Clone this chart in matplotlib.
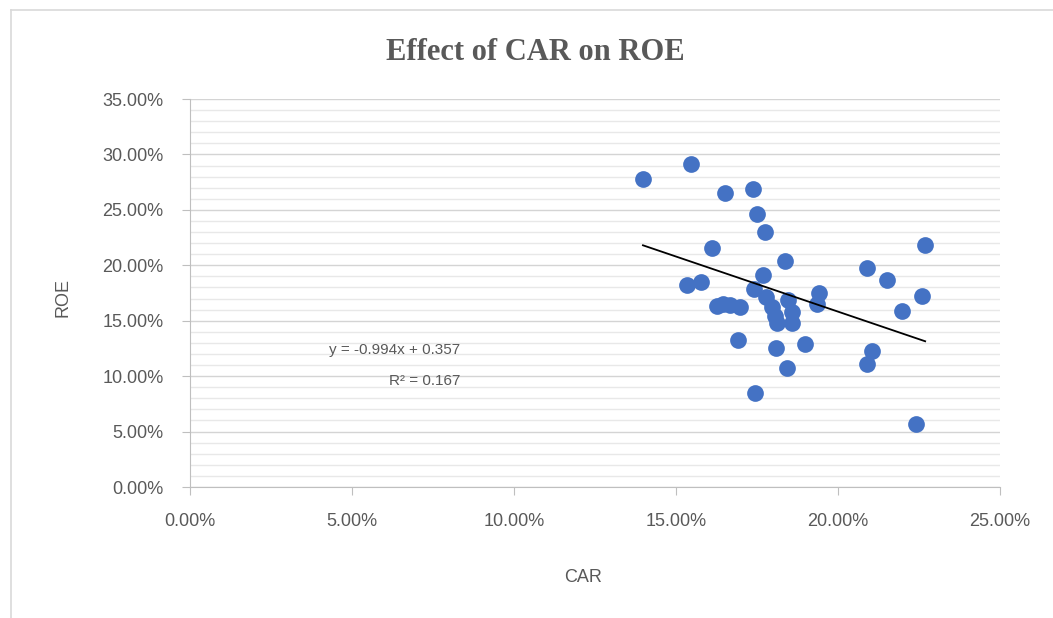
import numpy as np
import matplotlib
matplotlib.use("Agg")
import matplotlib.pyplot as plt
from matplotlib.ticker import PercentFormatter, MultipleLocator
from matplotlib.lines import Line2D

# CAR (x) and ROE (y) as fractions
car = [0.1398, 0.1546, 0.1650, 0.1738, 0.1750, 0.1775, 0.1610, 0.1836,
       0.1770, 0.1740, 0.1535, 0.1577, 0.1627, 0.1645, 0.1667, 0.1698,
       0.1778, 0.1796, 0.1806, 0.1812, 0.1846, 0.1858, 0.1858, 0.1935,
       0.1940, 0.1690, 0.1810, 0.1898, 0.1843, 0.1744, 0.2269, 0.2090,
       0.2150, 0.2260, 0.2197, 0.2105, 0.2090, 0.2240]
roe = [0.278, 0.291, 0.265, 0.269, 0.246, 0.230, 0.216, 0.204,
       0.191, 0.179, 0.182, 0.185, 0.163, 0.165, 0.164, 0.162,
       0.171, 0.162, 0.154, 0.148, 0.169, 0.158, 0.148, 0.165,
       0.175, 0.133, 0.125, 0.129, 0.107, 0.0845, 0.218, 0.198,
       0.187, 0.172, 0.159, 0.123, 0.111, 0.057]

# linear trendline as shown in the chart label
slope, intercept, r2 = -0.994, 0.357, 0.167

grey = '#595959'
fig = plt.figure(figsize=(10.53, 6.18), dpi=100)
ax = fig.add_axes([190/1053, 1-487/618, 810/1053, 388/618])

ax.scatter(car, roe, s=145, color='#4472C4', zorder=3, linewidths=0)
xs = np.array([min(car), max(car)])
ax.plot(xs, slope*xs + intercept, color='black', lw=1.3, zorder=4)

ax.set_xlim(0, 0.25)
ax.set_ylim(0, 0.35)
ax.xaxis.set_major_locator(MultipleLocator(0.05))
ax.yaxis.set_major_locator(MultipleLocator(0.05))
ax.yaxis.set_minor_locator(MultipleLocator(0.01))
ax.xaxis.set_major_formatter(PercentFormatter(xmax=1, decimals=2))
ax.yaxis.set_major_formatter(PercentFormatter(xmax=1, decimals=2))

ax.grid(axis='y', which='major', color='#d4d4d4', lw=1.0, zorder=0)
ax.grid(axis='y', which='minor', color='#e8e8e8', lw=1.0, zorder=0)
ax.set_axisbelow(True)

for s in ['top', 'right']:
    ax.spines[s].set_visible(False)
for s in ['left', 'bottom']:
    ax.spines[s].set_color('#bfbfbf')
ax.tick_params(which='major', direction='out', length=6, color='#bfbfbf',
               labelcolor=grey, labelsize=13, pad=13)
ax.tick_params(axis='y', which='minor', length=0)
for lab in ax.get_xticklabels() + ax.get_yticklabels():
    lab.set_family('Liberation Sans')

fig.text(535/1053, 1-52/618, 'Effect of CAR on ROE', ha='center', va='center',
         fontsize=22, fontweight='bold', family='Liberation Serif', color=grey)
fig.text(63/1053, 1-298/618, 'ROE', rotation=90, ha='center', va='center',
         fontsize=13, family='Liberation Sans', color=grey)
fig.text(583/1053, 1-578/618, 'CAR', ha='center', va='center',
         fontsize=13, family='Liberation Sans', color=grey)

ax.text(0.0833, 0.124, 'y = %.3fx + %.3f' % (slope, intercept), ha='right',
        va='center', fontsize=11, family='Liberation Sans', color=grey)
ax.text(0.0833, 0.096, 'R² = %.3f' % r2, ha='right', va='center',
        fontsize=11, family='Liberation Sans', color=grey)

# outer chart border (left and top visible)
fig.add_artist(Line2D([11/1053, 11/1053], [0, 1-10/618], color='#d9d9d9', lw=1.2))
fig.add_artist(Line2D([11/1053, 1], [1-10/618, 1-10/618], color='#d9d9d9', lw=1.2))

fig.savefig('out.png', dpi=100)
